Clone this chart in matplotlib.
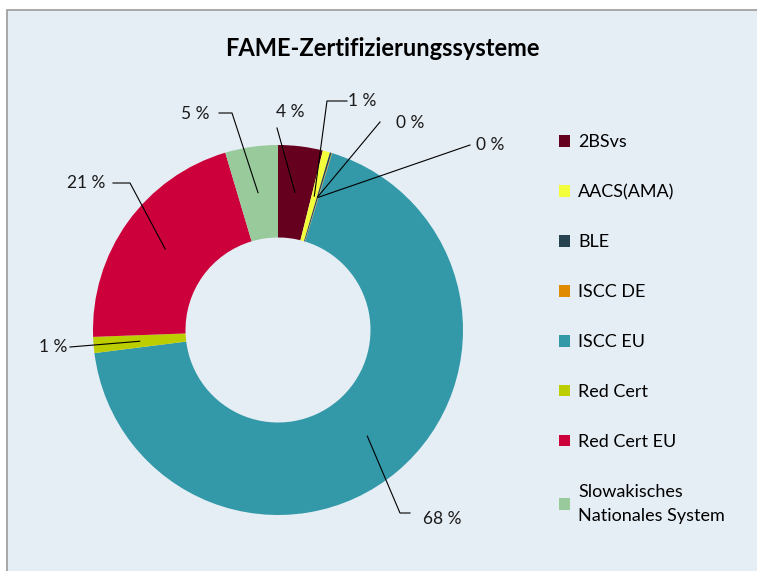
import numpy as np
import matplotlib.pyplot as plt
from matplotlib.patches import Rectangle

# FAME certification systems (share in %)
systems = ['2BSvs', 'AACS(AMA)', 'BLE', 'ISCC DE', 'ISCC EU', 'Red Cert',
           'Red Cert EU', 'Slowakisches\nNationales System']
shares = [3.9, 0.63, 0.15, 0.05, 68.3, 1.4, 21.0, 4.6]
labels = ['4 %', '1 %', '0 %', '0 %', '68 %', '1 %', '21 %', '5 %']
colors = ['#65001F', '#F4FF3C', '#27434F', '#E08A00', '#3399A9', '#BDCE00',
          '#CC003A', '#99CA9B']

W, H = 757, 571
CX, CY, R = 278, 330, 185   # pie centre / radius in pixels


def px(x, y):
    # pixel position -> data coords (pie centre = 0, radius = 1)
    return (x - CX) / R, (CY - y) / R


fig = plt.figure(figsize=(W / 100, H / 100), dpi=100)
fig.patch.set_facecolor('white')
fig.patches.append(Rectangle((7 / W, -0.01), 1.0, (H - 10) / H + 0.01,
                             transform=fig.transFigure, facecolor='#E6EEF5',
                             edgecolor='#9A9A9A', linewidth=1.2, zorder=-5))

ax = fig.add_axes([0, 0, 1, 1])
ax.set_facecolor('none')

wedges, _ = ax.pie(shares, colors=colors, startangle=90, counterclock=False,
                   radius=1, wedgeprops=dict(width=0.5, edgecolor='none'))
ax.set_xlim(-CX / R, (W - CX) / R)
ax.set_ylim((CY - H) / R, CY / R)
ax.set_aspect('equal')
ax.axis('off')

# label text position, optional elbow point (pixels)
label_pos = [(290, 112), (362, 101), (410, 123), (490, 145),
             (442, 519), (53, 347), (86, 183), (195, 114)]
line_start = [(277, 128), (347, 101), (380, 122), (470, 145),
              (410, 513), (70, 347), (113, 183), (219, 113)]
elbow = [None, (327, 101), None, None, (400, 513), None, (130, 183), (232, 113)]

cum = np.cumsum([0] + shares)
total = sum(shares)
for i, lab in enumerate(labels):
    mid = (cum[i] + cum[i + 1]) / 2 / total * 2 * np.pi
    tx, ty = 0.75 * np.sin(mid), 0.75 * np.cos(mid)
    pts = [px(*line_start[i])]
    if elbow[i] is not None:
        pts.append(px(*elbow[i]))
    pts.append((tx, ty))
    xs, ys = zip(*pts)
    ax.plot(xs, ys, color='black', lw=0.8, zorder=5)
    lx, ly = px(*label_pos[i])
    ax.text(lx, ly, lab, ha='center', va='center', fontsize=12.5,
            family='Lato', color='#1a1a1a')

fig.text(382 / W, 1 - 48 / H, 'FAME-Zertifizierungssysteme', ha='center',
         va='center', fontsize=17, fontweight='bold', family='Lato')

leg = ax.legend(wedges, systems, loc='upper left',
                bbox_to_anchor=(543 / W, 1 - 118 / H),
                bbox_transform=fig.transFigure, frameon=False,
                handlelength=0.6, handleheight=0.6, handletextpad=0.45,
                labelspacing=1.88, prop=dict(family='Lato', size=13))
for t in leg.get_texts():
    t.set_linespacing(1.6)

fig.savefig('out.png', dpi=100, facecolor=fig.get_facecolor())
